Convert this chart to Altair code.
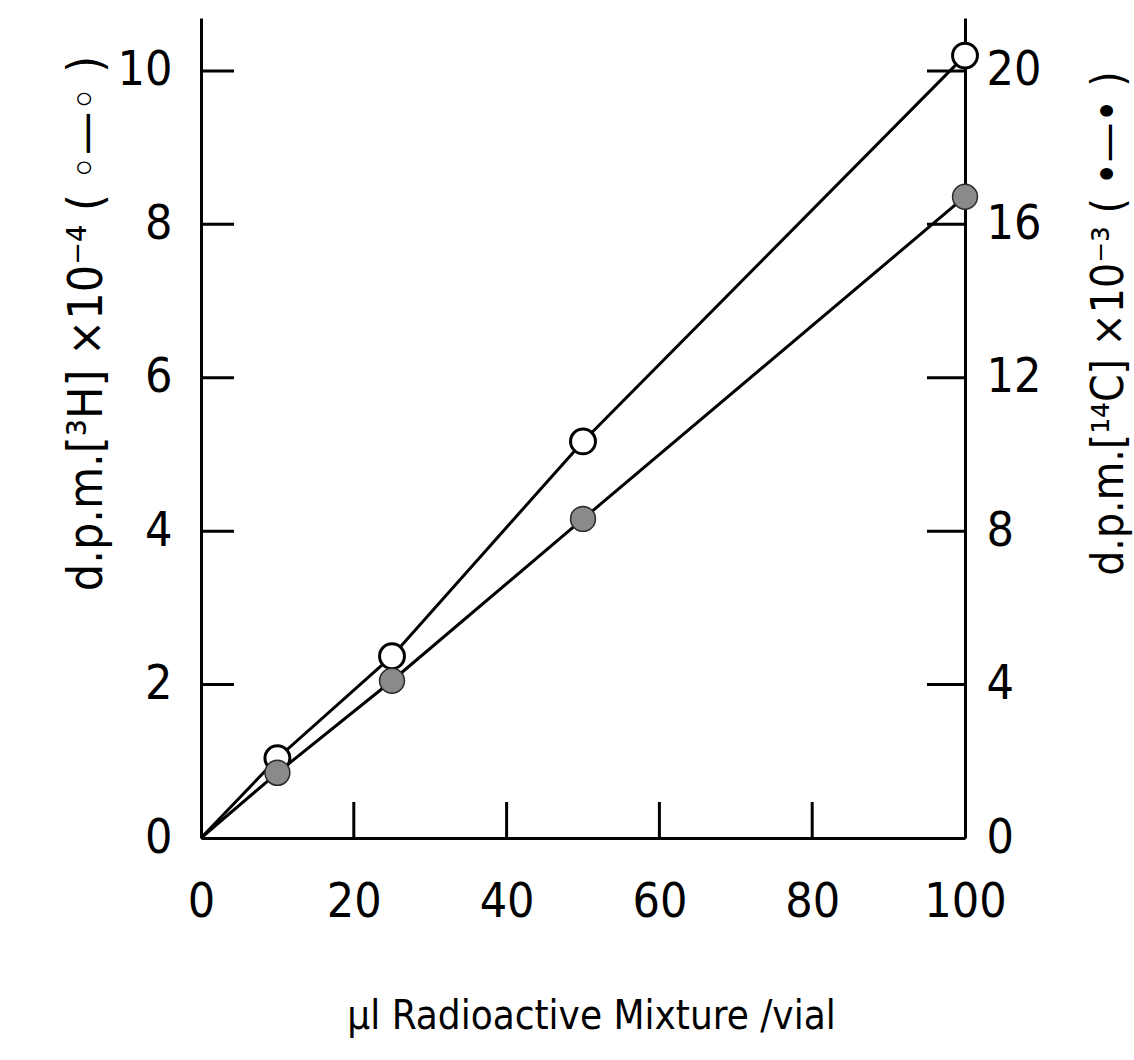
import altair as alt
import pandas as pd

# data
x_ul = [0, 10, 25, 50, 100]                 # µl radioactive mixture / vial
h3_dpm = [0, 1.04, 2.37, 5.17, 10.2]         # d.p.m. [3H] x 10^-4 (open circles, left axis)
c14_dpm = [0, 1.70, 4.10, 8.32, 16.72]       # d.p.m. [14C] x 10^-3 (filled circles, right axis)

x_label_vals = [0, 20, 40, 60, 80, 100]
x_tick_vals = [20, 40, 60, 80]
left_label_vals = [0, 2, 4, 6, 8, 10]
left_tick_vals = [2, 4, 6, 8, 10]
right_label_vals = [0, 4, 8, 12, 16, 20]
right_tick_vals = [4, 8, 12, 16, 20]

W, H = 764, 820
FONT = "Liberation Sans Narrow, DejaVu Sans Condensed, DejaVu Sans"
SW = 3

df = pd.DataFrame({"x": x_ul, "h3": h3_dpm, "c14": c14_dpm})
pts = df[df["x"] > 0]

xscale = alt.Scale(domain=[0, 100], nice=False)
yl = alt.Scale(domain=[0, 10.69], nice=False)
yr = alt.Scale(domain=[0, 21.38], nice=False)

x_axis = alt.Axis(
    values=x_label_vals, format="d", ticks=False, tickSize=0, grid=False,
    domainColor="black", domainWidth=SW, labelFont=FONT, labelFontSize=48,
    labelColor="black", labelPadding=40, labelFlush=False,
    title="µl Radioactive Mixture /vial", titleFont=FONT, titleFontSize=40,
    titleFontWeight="normal", titleColor="black", titleX=390, titleY=190,
    titleAlign="center", titleBaseline="alphabetic",
)
left_axis = alt.Axis(
    values=left_label_vals, format="d", ticks=False, tickSize=0, grid=False,
    domainColor="black", domainWidth=SW, labelFont=FONT, labelFontSize=48,
    labelColor="black", labelPadding=29, labelFlush=False,
    title="d.p.m.[³H]   ×10⁻⁴   ( ◦—◦ )", titleFont=FONT, titleFontSize=48,
    titleFontWeight="normal", titleColor="black", titleAngle=270,
    titleX=-100, titleY=305, titleAlign="center", titleBaseline="alphabetic",
)
right_axis = alt.Axis(
    orient="right", values=right_label_vals, format="d", ticks=False, tickSize=0,
    grid=False, domainColor="black", domainWidth=SW, labelFont=FONT,
    labelFontSize=48, labelColor="black", labelPadding=21, labelFlush=False,
    title="d.p.m.[¹⁴C]   ×10⁻³   ( •—• )", titleFont=FONT, titleFontSize=44,
    titleFontWeight="normal", titleColor="black", titleAngle=270,
    titleX=157, titleY=305, titleAlign="center", titleBaseline="alphabetic",
)

X = alt.X("x:Q", scale=xscale, axis=x_axis)

line_l = alt.Chart(df).mark_line(color="black", strokeWidth=SW).encode(
    x=X, y=alt.Y("h3:Q", scale=yl, axis=left_axis)
)
pts_l = alt.Chart(pts).mark_circle(
    fill="white", stroke="black", strokeWidth=SW, size=620, opacity=1
).encode(x=X, y=alt.Y("h3:Q", scale=yl, axis=left_axis))
ticks_l = alt.Chart(pd.DataFrame({"v": left_tick_vals})).mark_rule(
    color="black", strokeWidth=SW
).encode(y=alt.Y("v:Q", scale=yl, axis=left_axis), x=alt.value(0), x2=alt.value(33))
ticks_x = alt.Chart(pd.DataFrame({"x": x_tick_vals})).mark_rule(
    color="black", strokeWidth=SW
).encode(x=X, y=alt.value(H - 36), y2=alt.value(H))

left = alt.layer(ticks_l, ticks_x, line_l, pts_l)

line_r = alt.Chart(df).mark_line(color="black", strokeWidth=SW).encode(
    x=X, y=alt.Y("c14:Q", scale=yr, axis=right_axis)
)
pts_r = alt.Chart(pts).mark_circle(
    fill="#8a8a8a", stroke="#2a2a2a", strokeWidth=1.5, size=620, opacity=1
).encode(x=X, y=alt.Y("c14:Q", scale=yr, axis=right_axis))
ticks_r = alt.Chart(pd.DataFrame({"v": right_tick_vals})).mark_rule(
    color="black", strokeWidth=SW
).encode(y=alt.Y("v:Q", scale=yr, axis=right_axis), x=alt.value(W - 38), x2=alt.value(W))

right = alt.layer(ticks_r, line_r, pts_r)

chart = (
    alt.layer(left, right)
    .resolve_scale(y="independent")
    .properties(
        width=W, height=H, autosize="none",
        padding={"left": 201, "top": 18, "right": 1134 - 201 - W, "bottom": 1060 - 18 - H},
        background="white",
    )
    .configure_view(stroke=None)
)

chart.save("out.html", embed_options={"renderer": "svg", "actions": False})
